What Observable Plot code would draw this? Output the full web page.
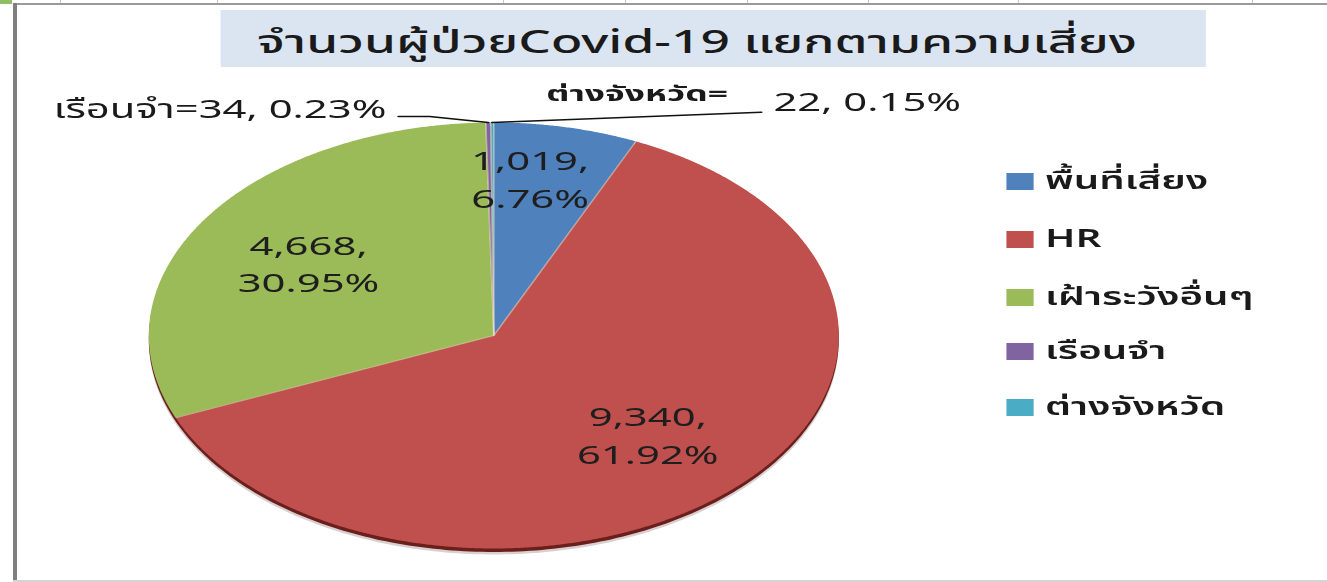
<!DOCTYPE html>
<html><head><meta charset="utf-8">
<script src="https://cdn.jsdelivr.net/npm/d3@7"></script>
<script src="https://cdn.jsdelivr.net/npm/@observablehq/plot@0.6"></script>
<style>
html,body{margin:0;padding:0;background:#fff;}
#wrap{position:relative;width:1327px;height:582px;overflow:hidden;background:#fff;font-family:"Noto Sans Thai","Tahoma","Noto Sans",sans-serif;color:#1a1a1a;}
#stage{position:absolute;left:0;top:0;height:582px;transform-origin:0 0;}
.abs{position:absolute;}
#title{background:#dbe5f1;display:flex;align-items:center;justify-content:center;white-space:nowrap;}
.leg{position:absolute;display:flex;align-items:center;white-space:nowrap;}
</style></head><body>
<div id="wrap">
  <div class="abs" style="left:0;top:0;width:12px;height:4px;background:#8fbf62"></div>
  <div class="abs" style="left:13px;top:3px;width:1314px;height:2px;background:#9a9a9a"></div>
  <div class="abs" style="left:13px;top:3px;width:4px;height:579px;background:#7f7f7f"></div>
  <div class="abs" style="left:13px;top:580px;width:1314px;height:2px;background:#d4d4d4"></div>
  <div id="stage"></div>
</div>
<script>
// ---- data ----
const categories = ["พื้นที่เสี่ยง", "HR", "เฝ้าระวังอื่นๆ", "เรือนจำ", "ต่างจังหวัด"];
const counts = [1019, 9340, 4668, 34, 22];
const percents = ["6.76%", "61.92%", "30.95%", "0.23%", "0.15%"];
const colors = ["#4f81bd", "#c0504d", "#9bbb59", "#8064a2", "#4bacc6"];
const title = "จำนวนผู้ป่วยCovid-19 แยกตามความเสี่ยง";

// ---- layout ----
const S = 1.61;               // horizontal stretch of the reference picture
const W = 1327, H = 582;
const stage = document.getElementById("stage");
stage.style.width = (W / S) + "px";
stage.style.transform = `scaleX(${S})`;

// grid ticks in top strip
[60, 217, 503, 625, 747, 868, 1018, 1252].forEach(x => {
  const d = document.createElement("div");
  d.className = "abs";
  Object.assign(d.style, {left: x + "px", top: "0px", width: "1px", height: "3px", background: "#c8c8c8"});
  document.getElementById("wrap").appendChild(d);
});

// title
const t = document.createElement("div");
t.id = "title"; t.className = "abs";
Object.assign(t.style, {left: (220 / S) + "px", top: "10px", width: (986 / S) + "px", height: "57px",
  fontSize: "32px", fontWeight: "500", paddingRight: (32 / S) + "px", paddingTop: "8px", boxSizing: "border-box"});
t.textContent = title;
stage.appendChild(t);

// pie geometry from data
const fmt = d3.format(",");
const arcs = d3.pie().sort(null).value(d => d)(counts);
const slices = [];
arcs.forEach((a, i) => {
  slices.push({cat: categories[i], x: 0, y: 0});
  const n = Math.max(2, Math.ceil((a.endAngle - a.startAngle) / 0.005));
  for (let k = 0; k <= n; k++) {
    const ang = a.startAngle + (a.endAngle - a.startAngle) * k / n;
    slices.push({cat: categories[i], x: Math.sin(ang), y: Math.cos(ang)});
  }
  slices.push({cat: categories[i], x: 0, y: 0});
});
const rim = d3.range(0, 361).map(deg => ({x: Math.sin(deg * Math.PI / 180), y: Math.cos(deg * Math.PI / 180)}));
const bounds = arcs.map(a => ({x1: 0, y1: 0, x2: Math.sin(a.startAngle), y2: Math.cos(a.startAngle)}));

const mid = a => (a.startAngle + a.endAngle) / 2;
// best-fit style placement: narrow slices push label outward, kept near the slice's centre line
const inside = arcs.map((a, i) => ({a, i})).filter(d => d.a.data >= 1000).map(({a, i}) => {
  const narrow = (a.endAngle - a.startAngle) < 0.7;
  const rxf = narrow ? 0.5 : 0.64, ryf = narrow ? 0.76 : 0.64;
  return {x: rxf * Math.sin(mid(a)), y: ryf * Math.cos(mid(a)), text: fmt(counts[i]) + ",\n" + percents[i]};
});

// external labels for the tiny slices
const pPr = arcs[3], pOt = arcs[4];
const P3 = {x: Math.sin(mid(pPr)), y: Math.cos(mid(pPr))};
const P4 = {x: Math.sin(mid(pOt)), y: Math.cos(mid(pOt))};
const lead3 = [P3, {x: P3.x - 0.17, y: 1.028}, {x: P3.x - 0.26, y: 1.028}];
const lead4 = [P4, {x: P4.x + 0.78, y: 1.048}];

const cx = 493, cyS = 260, rx = 345, ry = 213;
const chart = Plot.plot({
  width: W / S, height: 507,
  marginTop: 0, marginBottom: 0, marginLeft: 0, marginRight: 0,
  x: {domain: [-1, 1], range: [(cx - rx) / S, (cx + rx) / S], axis: null},
  y: {domain: [-1, 1], range: [cyS + ry, cyS - ry], axis: null},
  color: {domain: categories, range: colors},
  style: {fontFamily: '"Noto Sans Thai","Tahoma","Noto Sans",sans-serif', background: "transparent", overflow: "visible"},
  marks: [
    Plot.line(rim, {x: "x", y: "y", fill: "#3a0e0c", stroke: "none", dy: 6, fillOpacity: 0.2}),
    Plot.line(rim, {x: "x", y: "y", fill: "#6a1f1c", stroke: "none", dy: 3.5}),
    Plot.line(slices, {x: "x", y: "y", z: "cat", fill: "cat", stroke: "none"}),
    Plot.link(bounds, {x1: "x1", y1: "y1", x2: "x2", y2: "y2", stroke: "#f3e3c8", strokeOpacity: 0.55, strokeWidth: 1}),
    Plot.text(inside, {x: "x", y: "y", text: "text", fontSize: 26, lineHeight: 1.46, fill: "#1e1e1e"}),
    Plot.line(lead3, {x: "x", y: "y", stroke: "#111", strokeWidth: 1.6}),
    Plot.line(lead4, {x: "x", y: "y", stroke: "#111", strokeWidth: 1.6}),
    Plot.text([{x: lead3[2].x - 0.035, y: 1.019}], {x: "x", y: "y",
      text: () => `${categories[3]}=${counts[3]}, ${percents[3]}`, textAnchor: "end", lineAnchor: "bottom", fontSize: 26, fill: "#1a1a1a"}),
    Plot.text([{x: P4.x + 0.42, y: 1.1}], {x: "x", y: "y",
      text: () => `${categories[4]}=`, textAnchor: "middle", lineAnchor: "bottom", fontSize: 22, fontWeight: "bold", fill: "#1a1a1a"}),
    Plot.text([{x: lead4[1].x + 0.035, y: 1.056}], {x: "x", y: "y",
      text: () => `${counts[4]}, ${percents[4]}`, textAnchor: "start", lineAnchor: "bottom", fontSize: 26, fill: "#1a1a1a"})
  ]
});
chart.style.position = "absolute";
chart.style.left = "0px";
chart.style.top = "75px";
stage.appendChild(chart);

// legend
const legY = [181, 239, 297, 351, 407];
categories.forEach((c, i) => {
  const row = document.createElement("div");
  row.className = "leg";
  Object.assign(row.style, {left: (1007 / S) + "px", top: (legY[i] - 18) + "px", height: "36px", fontSize: "25px", fontWeight: "600"});
  const sw = document.createElement("div");
  Object.assign(sw.style, {width: (26 / S) + "px", height: "17px", background: colors[i], marginRight: (12 / S) + "px"});
  const tx = document.createElement("span");
  tx.textContent = c;
  row.appendChild(sw); row.appendChild(tx);
  stage.appendChild(row);
});
</script>
</body></html>
